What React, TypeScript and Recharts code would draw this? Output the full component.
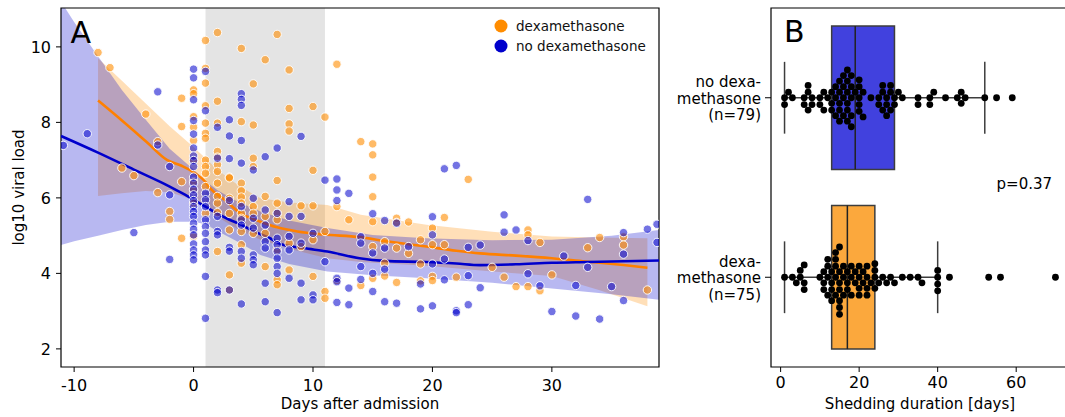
import React from 'react';
import {
  Area,
  ComposedChart,
  Legend,
  Line,
  ReferenceArea,
  ReferenceLine,
  Scatter,
  XAxis,
  YAxis,
} from 'recharts';

const FONT = "'DejaVu Sans', 'Liberation Sans', sans-serif";

// ---- Panel A: viral load vs days after admission ----
const xTicksA = [-10, 0, 10, 20, 30];
const yTicksA = [2, 4, 6, 8, 10];
const xDomainA: [number, number] = [-11.1, 38.97];
const yDomainA: [number, number] = [1.52, 11.03];
const steroidWindow = [1, 11];

// measured points, grouped by day
const dexByDay: [number, number[]][] = [
  [-8, [9.85]], [-7, [9.45]], [-6, [6.79]], [-5, [6.59]], [-4, [8.22]],
  [-3, [7.49, 6.14]], [-2, [5.64, 5.43]], [-1, [8.64, 7.89, 6.43, 4.93]],
  [0, [8.86, 8.76, 8.15, 7.87, 7.52, 7.0, 6.43, 6.21, 5.86, 4.98]],
  [1, [10.17, 9.43, 9.04, 8.44, 7.98, 7.71, 7.58, 7.0, 6.83, 6.65, 6.3, 5.59]],
  [2, [10.38, 8.56, 7.98, 7.23, 7.08, 6.88, 6.7, 6.39, 6.04, 5.86, 5.61, 4.58]],
  [3, [6.55, 6.53, 5.99, 5.59, 5.15, 3.96, 3.56]],
  [4, [9.96, 8.02, 6.39, 6.19, 6.02, 5.86, 5.59, 5.46, 5.11, 4.76, 4.27]],
  [5, [9.02, 7.93, 7.05, 6.83, 5.77, 5.59, 5.06]],
  [6, [9.66, 6.04, 5.51, 5.06, 4.18]],
  [7, [10.33, 6.46, 5.86, 5.59, 5.42, 4.62, 3.83, 3.7]],
  [8, [9.39, 8.37, 7.96, 7.77, 4.8, 4.09]],
  [9, [5.79, 4.71]],
  [10, [8.42, 6.73, 5.79, 4.89, 3.92]],
  [11, [8.14, 5.11, 3.52, 3.34]],
  [12, [9.54, 5.77, 3.81]],
  [13, [5.42]],
  [14, [7.49, 3.68]],
  [15, [7.43, 7.14, 6.55, 6.03, 5.37, 4.71, 3.87]],
  [16, [4.84, 4.27, 3.93]],
  [17, [5.46, 5.35, 4.67, 3.76]],
  [18, [5.36, 4.53]],
  [19, [4.89, 4.25, 3.8]],
  [20, [5.2, 4.76, 3.92, 3.81]],
  [21, [5.48, 4.76]],
  [22, [3.9]], [23, [6.49]], [25, [4.16]], [26, [3.9]], [27, [3.65]],
  [28, [5.15, 5.02, 3.65]], [29, [4.82, 3.54]], [30, [3.96]],
  [33, [4.68]], [34, [4.95]], [36, [4.97, 4.75]], [38, [3.56]],
];

const noDexByDay: [number, number[]][] = [
  [-10.9, [7.39]], [-8.9, [7.7]], [-5, [5.08]], [-3, [8.81, 7.4]], [-2, [6.83, 6.08, 4.37]],
  [0, [9.41, 9.18, 8.6, 8.05, 7.69, 7.32, 7.11, 6.99, 6.83, 6.55, 6.39, 6.23, 6.08, 5.93, 5.77, 5.64, 5.51, 5.33, 5.17, 5.02, 4.78, 4.62, 4.49, 4.36]],
  [1, [9.35, 8.31, 6.12, 5.95, 5.77, 5.42, 5.24, 5.06, 4.84, 4.62, 4.49, 3.92, 2.81]],
  [2, [7.87, 7.05, 5.51, 5.11, 5.02, 3.56, 3.49]],
  [3, [8.07, 7.64, 7.04, 5.93, 4.69, 4.59, 3.56]],
  [4, [8.76, 8.61, 8.45, 7.52, 6.92, 5.77, 5.42, 5.28, 4.58, 4.4, 3.19]],
  [5, [6.74, 5.99, 5.46, 5.2, 4.49, 4.36, 4.23]],
  [6, [7.09, 5.68, 5.28, 4.84, 4.67, 3.74, 3.25]],
  [7, [7.32, 5.59, 4.93, 4.76, 4.58, 4.4, 4.18, 4.0, 2.96]],
  [8, [5.9, 5.51, 4.98, 4.62, 3.87]],
  [9, [7.63, 5.51, 4.8, 3.74, 3.3]],
  [10, [5.06, 3.43, 3.3]],
  [11, [6.47, 4.31]],
  [12, [6.5, 6.21, 5.93, 3.87, 3.78, 3.23]],
  [13, [6.12, 3.61, 3.17]],
  [14, [4.97, 4.8, 4.18, 3.84]],
  [15, [5.58, 4.54, 4.0, 3.52]],
  [16, [5.4, 4.67, 4.11, 3.25]],
  [17, [5.33, 3.21]], [18, [4.71]], [19, [3.72, 3.06]],
  [20, [5.5, 5.02, 4.25, 3.14]],
  [21, [6.77, 4.38, 3.83]], [22, [6.86, 3.01, 2.96]], [23, [4.69, 3.94, 3.17]],
  [24, [4.75, 3.62]], [26, [5.55, 5.09]], [27, [5.15]], [28, [4.87, 3.99]],
  [29, [3.67]], [30, [2.99]], [31, [4.46]], [32, [3.68, 2.87]], [33, [5.96, 4.16]],
  [34, [2.79]], [35, [3.65]], [36, [5.08, 4.51, 3.28]], [38, [5.17]], [38.8, [5.3, 4.82]],
];

// smoothed trends [day, load]
const dexTrend: [number, number][] = [
  [-8, 8.58], [-6, 8.05], [-4, 7.5], [-2.2, 7.0], [-1, 6.85], [0, 6.68], [1, 6.42],
  [1.4, 6.25], [2.6, 5.95], [3.9, 5.6], [5.6, 5.37], [7, 5.22], [8.7, 5.11], [10.9, 5.03],
  [13.9, 4.96], [16, 4.86], [19.5, 4.71], [22, 4.6], [24, 4.53], [27, 4.47], [30, 4.4],
  [33, 4.31], [36, 4.22], [38, 4.15],
];
const noDexTrend: [number, number][] = [
  [-11.1, 7.64], [-8, 7.2], [-5, 6.75], [-2, 6.3], [-1, 6.13], [0, 5.95], [1, 5.77],
  [2, 5.58], [3, 5.42], [3.7, 5.33], [5, 5.12], [6.4, 4.93], [7.3, 4.78], [9.2, 4.67],
  [11.2, 4.58], [13.9, 4.4], [16, 4.33], [19.5, 4.3], [22, 4.26], [24, 4.22], [27, 4.24],
  [30, 4.28], [33, 4.3], [36, 4.32], [39, 4.34],
];

// confidence bands [day, low, high]
const dexBand: [number, number, number][] = [
  [-8, 6.05, 9.7], [-6, 6.12, 9.1], [-4, 6.18, 8.5], [-2, 6.15, 7.9], [0, 5.95, 7.35],
  [1, 5.75, 7.05], [2, 5.5, 6.75], [3, 5.3, 6.5], [4, 5.12, 6.28], [5.6, 4.89, 5.99],
  [8, 4.65, 5.88], [11.2, 4.4, 5.81], [14, 4.3, 5.55], [19.5, 4.2, 5.29], [25, 4.05, 5.1],
  [30, 3.93, 4.98], [34, 3.55, 4.95], [38, 3.13, 4.93],
];
const noDexBand: [number, number, number][] = [
  [-11.1, 4.75, 11.2], [-10, 4.85, 10.66], [-8, 5.0, 9.75], [-6, 5.15, 8.86],
  [-4, 5.28, 8.07], [-2, 5.37, 7.3], [0, 5.37, 6.75], [1, 5.3, 6.45], [2, 5.12, 6.2],
  [3.7, 4.84, 5.9], [5.6, 4.49, 5.64], [8, 4.25, 5.4], [11.2, 4.05, 5.2], [15, 3.95, 5.02],
  [19.5, 3.87, 4.93], [25, 3.75, 4.88], [30, 3.6, 4.89], [35, 3.45, 5.0], [39, 3.3, 5.15],
];

const legendItems = [
  { label: 'dexamethasone', color: '#ff8c00' },
  { label: 'no dexamethasone', color: '#0000cc' },
];

// ---- Panel B: shedding duration ----
const groupLabels = [
  ['no dexa-', 'methasone', '(n=79)'],
  ['dexa-', 'methasone', '(n=75)'],
];
const groupColors = ['#4141de', '#fba83d'];
const boxQ1 = [13, 13];
const boxMedian = [19, 17];
const boxQ3 = [29, 24];
const whiskerLow = [1, 1];
const whiskerHigh = [52, 40];
const xTicksB = [0, 20, 40, 60];
const xDomainB: [number, number] = [-2.45, 73.45];
const pValueText = 'p=0.37';

const noDexDurations = [
  1, 1, 2, 3, 6, 6, 7, 7, 7, 8, 8, 10, 10, 11, 11, 12,
  13, 13, 13, 14, 14, 14, 15, 15, 15, 15, 15, 16, 16, 16, 16, 17, 17, 17, 17, 17, 17,
  18, 18, 18, 18, 18, 19, 20, 20, 20, 20, 20, 21, 21, 23,
  25, 25, 26, 26, 26, 27, 27, 27, 28, 28, 28, 29, 29, 30, 31,
  35, 35, 38, 38, 39, 42, 45, 46, 46, 47, 52, 55, 59,
];
const dexDurations = [
  1, 3, 4, 5, 5, 6, 6, 6,
  10, 11, 11, 11, 12, 12, 12, 12, 13, 13, 13, 13, 14, 14, 14, 14, 14,
  15, 15, 15, 15, 15, 15, 15, 16, 16, 16, 17, 17, 17, 18, 18, 18, 19, 19,
  20, 20, 20, 20, 21, 21, 22, 22, 22, 22, 23, 24, 24, 24, 24,
  25, 26, 27, 28, 29, 31, 33, 35, 36,
  40, 40, 40, 40, 43, 53, 56, 70,
];

const toPoints = (groups: [number, number[]][]) =>
  groups.flatMap(([day, loads]) => loads.map((load) => ({ day, load })));
const toTrend = (rows: [number, number][]) => rows.map(([day, load]) => ({ day, load }));
const toBand = (rows: [number, number, number][]) =>
  rows.map(([day, low, high]) => ({ day, band: [low, high] }));

// simple beeswarm (same idea as seaborn's swarmplot), in pixel space
const PLOT_B_WIDTH = 298;
const PLOT_B_HEIGHT = 359;
const DOT_D = 6.8;
const swarm = (values: number[], center: number) => {
  const pxPerDay = PLOT_B_WIDTH / (xDomainB[1] - xDomainB[0]);
  const pxPerUnit = PLOT_B_HEIGHT / 2;
  const placed: { x: number; y: number; v: number }[] = [];
  [...values].sort((a, b) => a - b).forEach((v) => {
    const x = v * pxPerDay;
    const near = placed.filter((p) => Math.abs(p.x - x) < DOT_D);
    const cands = [0];
    near.forEach((p) => {
      const dy = Math.sqrt(DOT_D * DOT_D - (p.x - x) ** 2);
      cands.push(p.y + dy, p.y - dy);
    });
    cands.sort((a, b) => Math.abs(a) - Math.abs(b));
    const y =
      cands.find((c) => near.every((p) => (p.x - x) ** 2 + (p.y - c) ** 2 >= DOT_D * DOT_D - 0.01)) ?? 0;
    placed.push({ x, y, v });
  });
  return placed.map((p) => ({ dur: p.v, pos: center + p.y / pxPerUnit }));
};

const axisTick = { fill: '#000', fontSize: 16, fontFamily: FONT };

const makeDot = (color: string, opacity: number) => (props: any) => (
  <circle
    cx={props.cx}
    cy={props.cy}
    r={4.2}
    fill={color}
    fillOpacity={opacity}
    stroke="#fff"
    strokeWidth={0.9}
  />
);

const blackDot = (props: any) => <circle cx={props.cx} cy={props.cy} r={3.4} fill="#000" />;

const renderLegend = () => (
  <div style={{ fontFamily: FONT, fontSize: 13.5, color: '#111' }}>
    {legendItems.map((item) => (
      <div key={item.label} style={{ display: 'flex', alignItems: 'center', height: 20 }}>
        <svg width={14} height={14}>
          <circle cx={7} cy={7} r={6.5} fill={item.color} />
        </svg>
        <span style={{ marginLeft: 8, whiteSpace: 'nowrap' }}>{item.label}</span>
      </div>
    ))}
  </div>
);

const CategoryTick = (props: any) => {
  const { x, y, payload } = props;
  const lines = groupLabels[payload.value] || [];
  return (
    <text x={x} y={y} textAnchor="end" fill="#000" fontSize={15} fontFamily={FONT}>
      {lines.map((line, i) => (
        <tspan key={line} x={x} dy={i === 0 ? -10.3 : 16.5}>
          {line}
        </tspan>
      ))}
    </text>
  );
};

export default function App() {
  const dexPoints = toPoints(dexByDay);
  const noDexPoints = toPoints(noDexByDay);
  const swarmNoDex = swarm(noDexDurations, 0);
  const swarmDex = swarm(dexDurations, 1);

  return (
    <div
      style={{
        position: 'absolute',
        left: 0,
        top: 0,
        width: 1065,
        height: 417,
        overflow: 'hidden',
        background: '#fff',
        fontFamily: FONT,
      }}
    >
      <div style={{ position: 'absolute', left: 0, top: 0 }}>
        <ComposedChart width={665} height={417} margin={{ top: 8, right: 6, bottom: 0, left: 0 }}>
          <XAxis
            type="number"
            dataKey="day"
            domain={xDomainA}
            allowDataOverflow
            ticks={xTicksA}
            height={50}
            axisLine={false}
            tickLine={{ stroke: '#000' }}
            tickSize={5}
            tickMargin={8}
            tick={axisTick}
            label={{ value: 'Days after admission', position: 'insideBottom', offset: 8, fill: '#000', fontSize: 15, fontFamily: FONT }}
          />
          <YAxis
            type="number"
            dataKey="load"
            domain={yDomainA}
            allowDataOverflow
            ticks={yTicksA}
            width={61}
            axisLine={false}
            tickLine={{ stroke: '#000' }}
            tickSize={5}
            tickMargin={5}
            tick={axisTick}
            label={{
              value: 'log10 viral load',
              angle: -90,
              position: 'insideLeft',
              offset: 19,
              fill: '#000',
              fontSize: 15,
              fontFamily: FONT,
              style: { textAnchor: 'middle' },
            }}
          />
          <ReferenceArea x1={steroidWindow[0]} x2={steroidWindow[1]} fill="#e4e4e4" fillOpacity={1} stroke="none" />
          <Scatter data={dexPoints} shape={makeDot('#ff8c00', 0.6)} isAnimationActive={false} />
          <Scatter data={noDexPoints} shape={makeDot('#0000cc', 0.55)} isAnimationActive={false} />
          <Area
            data={toBand(dexBand)}
            dataKey="band"
            type="linear"
            fill="#ff8c00"
            fillOpacity={0.28}
            stroke="none"
            isAnimationActive={false}
          />
          <Area
            data={toBand(noDexBand)}
            dataKey="band"
            type="linear"
            fill="#0000cc"
            fillOpacity={0.28}
            stroke="none"
            isAnimationActive={false}
          />
          <Line
            data={toTrend(dexTrend)}
            dataKey="load"
            type="monotone"
            stroke="#ff8000"
            strokeWidth={2.6}
            dot={false}
            isAnimationActive={false}
          />
          <Line
            data={toTrend(noDexTrend)}
            dataKey="load"
            type="monotone"
            stroke="#0000cc"
            strokeWidth={2.6}
            dot={false}
            isAnimationActive={false}
          />
          <ReferenceArea
            x1={xDomainA[0]}
            x2={xDomainA[1]}
            y1={yDomainA[0]}
            y2={yDomainA[1]}
            fill="none"
            stroke="#000"
            strokeWidth={1.2}
          />
          <Legend
            layout="vertical"
            align="center"
            verticalAlign="middle"
            content={renderLegend}
            wrapperStyle={{ top: 16, left: 494, width: 170, height: 40 }}
          />
        </ComposedChart>
      </div>

      <div style={{ position: 'absolute', left: 665, top: 0 }}>
        <ComposedChart width={405} height={417} margin={{ top: 8, right: 1, bottom: 0, left: 0 }}>
          <XAxis
            type="number"
            dataKey="dur"
            domain={xDomainB}
            allowDataOverflow
            ticks={xTicksB}
            height={50}
            axisLine={false}
            tickLine={{ stroke: '#000' }}
            tickSize={5}
            tickMargin={5}
            tick={axisTick}
            label={{ value: 'Shedding duration [days]', position: 'insideBottom', offset: 8, fill: '#000', fontSize: 15, fontFamily: FONT }}
          />
          <YAxis
            type="number"
            dataKey="pos"
            domain={[-0.5, 1.5]}
            reversed
            ticks={[0, 1]}
            width={106}
            axisLine={false}
            tickLine={{ stroke: '#000' }}
            tickSize={6}
            tickMargin={4}
            tick={<CategoryTick />}
          />
          {groupLabels.map((_, i) => (
            <ReferenceArea
              key={`box-${i}`}
              x1={boxQ1[i]}
              x2={boxQ3[i]}
              y1={i - 0.4}
              y2={i + 0.4}
              fill={groupColors[i]}
              fillOpacity={1}
              stroke="#3d3d3d"
              strokeWidth={1.5}
            />
          ))}
          {groupLabels.map((_, i) => (
            <ReferenceLine
              key={`wl-${i}`}
              segment={[{ x: whiskerLow[i], y: i }, { x: boxQ1[i], y: i }]}
              stroke="#3d3d3d"
              strokeWidth={1.5}
            />
          ))}
          {groupLabels.map((_, i) => (
            <ReferenceLine
              key={`wh-${i}`}
              segment={[{ x: boxQ3[i], y: i }, { x: whiskerHigh[i], y: i }]}
              stroke="#3d3d3d"
              strokeWidth={1.5}
            />
          ))}
          {groupLabels.map((_, i) => (
            <ReferenceLine
              key={`cl-${i}`}
              segment={[{ x: whiskerLow[i], y: i - 0.2 }, { x: whiskerLow[i], y: i + 0.2 }]}
              stroke="#3d3d3d"
              strokeWidth={1.5}
            />
          ))}
          {groupLabels.map((_, i) => (
            <ReferenceLine
              key={`ch-${i}`}
              segment={[{ x: whiskerHigh[i], y: i - 0.2 }, { x: whiskerHigh[i], y: i + 0.2 }]}
              stroke="#3d3d3d"
              strokeWidth={1.5}
            />
          ))}
          {groupLabels.map((_, i) => (
            <ReferenceLine
              key={`md-${i}`}
              segment={[{ x: boxMedian[i], y: i - 0.4 }, { x: boxMedian[i], y: i + 0.4 }]}
              stroke="#222"
              strokeWidth={1.5}
            />
          ))}
          <Scatter data={swarmNoDex} shape={blackDot} isAnimationActive={false} />
          <Scatter data={swarmDex} shape={blackDot} isAnimationActive={false} />
          <ReferenceArea
            x1={xDomainB[0]}
            x2={xDomainB[1]}
            y1={-0.5}
            y2={1.5}
            fill="none"
            stroke="#000"
            strokeWidth={1.2}
          />
        </ComposedChart>
      </div>

      <svg
        width={1065}
        height={417}
        style={{ position: 'absolute', left: 0, top: 0, pointerEvents: 'none' }}
      >
        <text x={70.5} y={43.3} fontSize={30} fontFamily={FONT} fill="#000">A</text>
        <text x={784} y={41.7} fontSize={30} fontFamily={FONT} fill="#000">B</text>
        <text x={996.6} y={189} fontSize={15} fontFamily={FONT} fill="#000">{pValueText}</text>
      </svg>
    </div>
  );
}
